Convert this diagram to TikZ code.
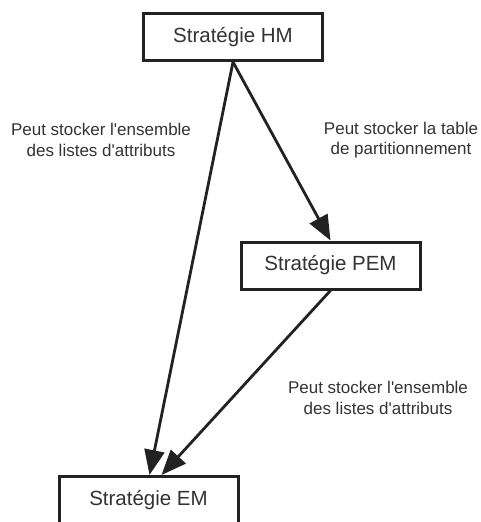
\documentclass[tikz,border=0pt]{standalone}
\usepackage{fontspec}
\setmainfont{Liberation Sans}
\definecolor{ink}{RGB}{34, 34, 34}
\definecolor{txt}{RGB}{51, 51, 51}
\usetikzlibrary{arrows.meta}

\newcommand{\apos}{\textquotesingle}

\tikzset{
  stratbox/.style = {
    draw           = ink,
    line width     = 3pt,
    fill           = white,
    minimum width  = 179pt,
    minimum height = 47pt,
    inner sep      = 0pt,
    text           = txt,
    font           = \fontsize{20.5}{24}\selectfont
  },
  note/.style = {
    text  = txt,
    align = center,
    font  = \fontsize{17}{20.5}\selectfont
  },
  link/.style = {
    draw       = ink,
    line width = 2.8pt,
    -{Triangle[length=25pt, width=20pt]}
  }
}

\begin{document}
\begin{tikzpicture}[x=1pt, y=-1pt]
  \useasboundingbox (0,0) rectangle (481,522);

  \node[stratbox] (hm)  at (233, 37)    {Stratégie HM};
  \node[stratbox] (pem) at (330.5, 265.5) {Stratégie PEM};
  \node[stratbox] (em)  at (148.5, 500) {Stratégie EM};

  \draw[link] (hm.south)  -- ([xshift=1pt]em.north);
  \draw[link] (hm.south)  -- (pem.north);
  \draw[link] (pem.south) -- ([xshift=13pt]em.north);

  \node[note] (lblhmem)  at (101, 140) {Peut stocker l\apos ensemble\\des listes d\apos attributs};
  \node[note] (lblhmpem) at (401, 140) {Peut stocker la table\\de partitionnement};
  \node[note] (lblpemem) at (378, 398) {Peut stocker l\apos ensemble\\des listes d\apos attributs};
\end{tikzpicture}
\end{document}
